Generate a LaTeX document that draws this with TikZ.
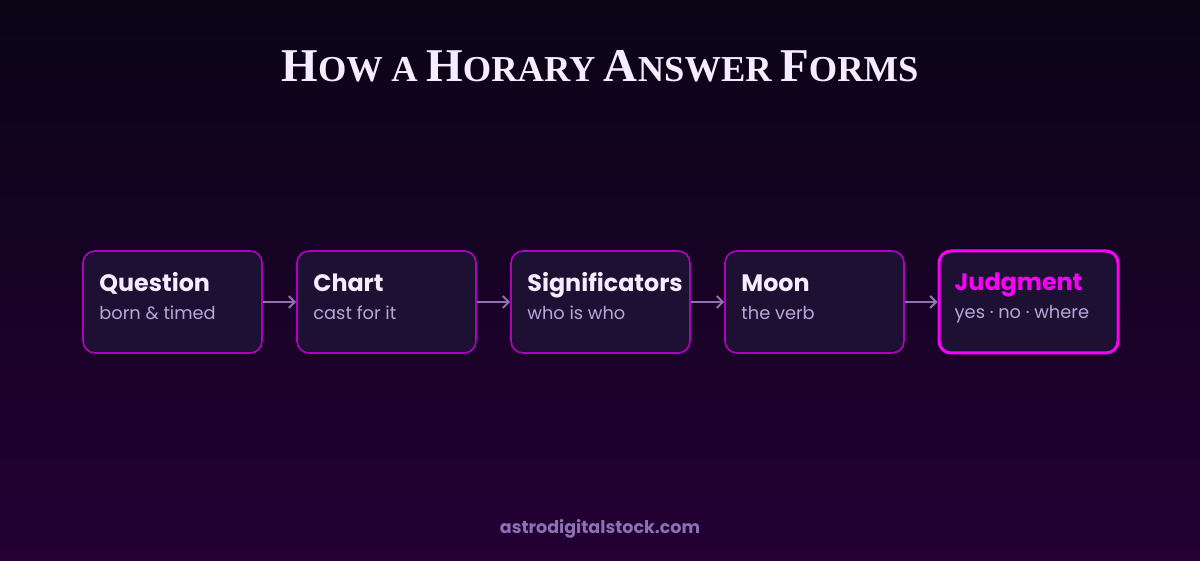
\documentclass[tikz,border=0pt]{standalone}
\usepackage{fontspec}
\setmainfont{Liberation Serif}
\newfontfamily\uifont{Poppins}
\usetikzlibrary{positioning,arrows.meta}

\definecolor{bgtop}{RGB}{11,5,22}
\definecolor{bgbot}{RGB}{36,0,52}
\definecolor{boxfill}{RGB}{30,16,50}
\definecolor{boxedge}{RGB}{176,0,192}
\definecolor{hotpink}{RGB}{250,0,250}
\definecolor{headtxt}{RGB}{244,236,255}
\definecolor{subtxt}{RGB}{184,166,216}
\definecolor{arrowc}{RGB}{144,112,176}
\definecolor{footc}{RGB}{140,112,180}

\newcommand\capw[2]{{\fontsize{47}{50}\selectfont #1}{\fontsize{36.5}{40}\selectfont #2}}

\tikzstyle{block} = [rectangle, draw=boxedge, line width=1.6pt, fill=boxfill, rounded corners=12pt, minimum width=179pt, minimum height=102pt]
\tikzstyle{final} = [block, draw=hotpink, line width=3pt]
\tikzstyle{head} = [anchor=base west, inner sep=0pt, text=headtxt, font=\uifont\bfseries\fontsize{23.8}{26}\selectfont]
\tikzstyle{sub} = [anchor=base west, inner sep=0pt, text=subtxt, font=\uifont\fontsize{17.8}{20}\selectfont]
\tikzstyle{line} = [draw=arrowc, line width=2pt, -{Straight Barb[length=6pt,width=12pt]}]

\begin{document}
\begin{tikzpicture}[x=1pt, y=1pt, node distance=33.4pt]
		\shade[top color=bgtop, bottom color=bgbot] (0,0) rectangle (1200,560);
		\useasboundingbox (0,0) rectangle (1200,560);

		\node[text=headtxt, font=\bfseries\fontsize{34}{40}\selectfont] (title) at (600,494) {\capw{H}{OW} \capw{}{A} \capw{H}{ORARY} \capw{A}{NSWER} \capw{F}{ORMS}};

		\node[block] (q) at (172.5,258) {};
		\node[block, right=of q] (c) {};
		\node[block, right=of c] (s) {};
		\node[block, right=of s] (m) {};
		\node[final, right=32.7pt of m] (j) {};

		\node[head] (qh) at ([xshift=17pt,yshift=-41pt]q.north west) {Question};
		\node[sub]  (qs) at ([xshift=17pt,yshift=-69pt]q.north west) {born \& timed};
		\node[head] (ch) at ([xshift=17pt,yshift=-41pt]c.north west) {Chart};
		\node[sub]  (cs) at ([xshift=17pt,yshift=-69pt]c.north west) {cast for it};
		\node[head] (sh) at ([xshift=17pt,yshift=-41pt]s.north west) {Significators};
		\node[sub]  (ss) at ([xshift=17pt,yshift=-69pt]s.north west) {who is who};
		\node[head] (mh) at ([xshift=17pt,yshift=-41pt]m.north west) {Moon};
		\node[sub]  (ms) at ([xshift=17pt,yshift=-69pt]m.north west) {the verb};
		\node[head, text=hotpink] (jh) at ([xshift=17pt,yshift=-41pt]j.north west) {Judgment};
		\node[sub]  (js) at ([xshift=17pt,yshift=-69pt]j.north west) {yes · no · where};

		\path[line] (q) -- (c);
		\path[line] (c) -- (s);
		\path[line] (s) -- (m);
		\path[line] (m) -- (j);

		\node[text=footc, font=\uifont\bfseries\fontsize{17.5}{20}\selectfont] (foot) at (600,31) {astrodigitalstock.com};
	\end{tikzpicture}
\end{document}
